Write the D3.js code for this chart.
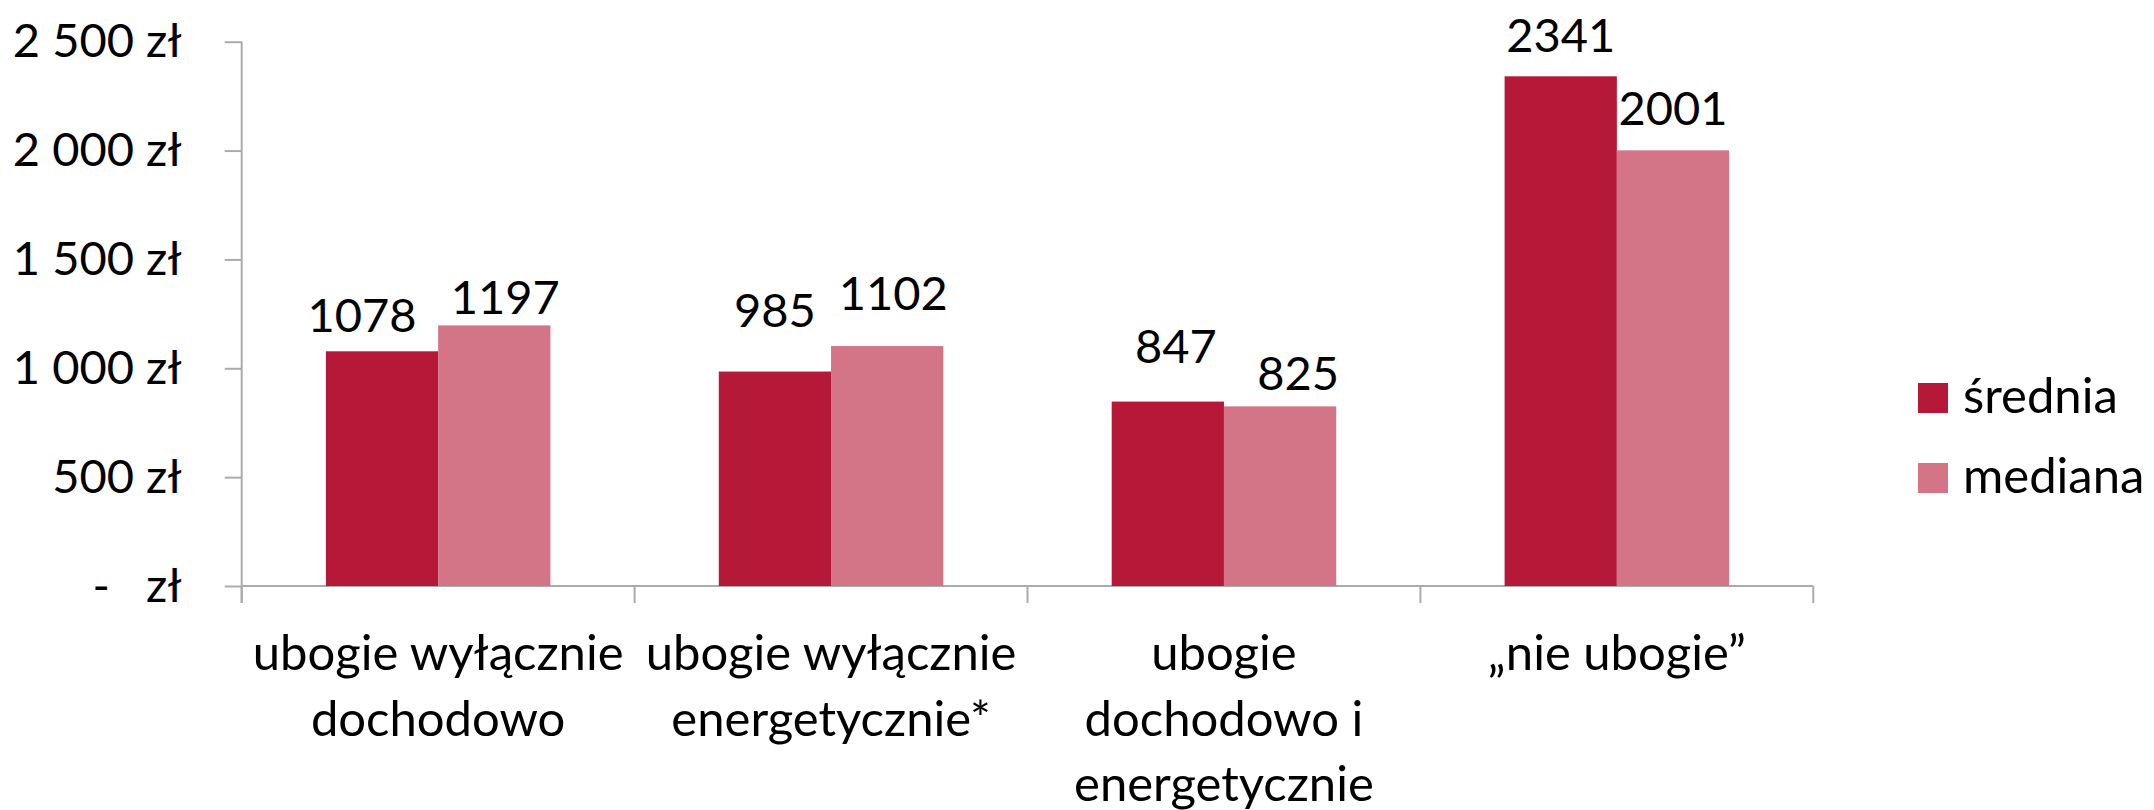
<!DOCTYPE html>
<html>
<head>
<meta charset="utf-8">
<script src="https://cdn.jsdelivr.net/npm/d3@7"></script>
<style>
  body { margin: 0; background: #fff; }
  text { font-family: Lato, "Open Sans", sans-serif; fill: #000; }
</style>
</head>
<body>
<script>
// chart data
var categories = [
  ["ubogie wyłącznie", "dochodowo"],
  ["ubogie wyłącznie", "energetycznie*"],
  ["ubogie", "dochodowo i", "energetycznie"],
  ["\u201enie ubogie\u201d"]
];
var seriesNames = ["średnia", "mediana"];
var sredniaValues = [1078, 985, 847, 2341];
var medianaValues = [1197, 1102, 825, 2001];
var yTicks = [0, 500, 1000, 1500, 2000, 2500];

// labels in the original were dragged around by hand, so nudge them a bit
var labelNudge = [
  [[-20, 5], [11, 13]],
  [[0, -21], [6, -12]],
  [[8, -15], [18, 8]],
  [[0, 0], [0, -1]]
];

var colors = ["#b61838", "#d37487"];

var width = 2154, height = 810;
// note: "top" is taken by window.top, so plot edges get a prefix
var plotLeft = 241.7, plotRight = 1813.3, plotTop = 41.7, plotBottom = 586;
var fontSize = 47;
var catFontSize = 49;

var svg = d3.select('body').append('svg')
            .attr("width", width)
            .attr("height", height);

var x0 = d3.scaleBand()
           .domain(d3.range(categories.length))
           .range([plotLeft, plotRight])
           .padding(0);

var x1 = d3.scaleBand()
           .domain([0, 1])
           .range([0, x0.bandwidth()])
           .paddingInner(0)
           .paddingOuter(0.75);

var y = d3.scaleLinear()
          .domain([0, 2500])
          .range([plotBottom, plotTop]);

var locale = d3.formatLocale({ decimal: ",", thousands: " ", grouping: [3], currency: ["", " zł"] });
var fmt = locale.format(",.0f");

// y axis
var yAxis = d3.axisLeft(y)
              .tickValues(yTicks)
              .tickSize(17)
              .tickPadding(43)
              .tickFormat(function (d) { return d === 0 ? "-   zł" : fmt(d) + " zł"; });

var gy = svg.append('g')
            .attr('transform', 'translate(' + plotLeft + ',0)')
            .call(yAxis);
gy.select('.domain').remove();
gy.selectAll('line').attr('stroke', '#ababab').attr('stroke-width', 2);
gy.selectAll('text')
  .style('font-size', fontSize + 'px')
  .style('font-family', 'Lato')
  .style('white-space', 'pre')
  .attr('fill', '#000');

// vertical axis line, runs down to the x tick length
svg.append('line')
   .attr('x1', plotLeft).attr('x2', plotLeft)
   .attr('y1', plotTop).attr('y2', plotBottom + 17)
   .attr('stroke', '#ababab').attr('stroke-width', 2);

// x axis baseline and category separators
svg.append('line')
   .attr('x1', plotLeft).attr('x2', plotRight)
   .attr('y1', plotBottom).attr('y2', plotBottom)
   .attr('stroke', '#ababab').attr('stroke-width', 2);

var sepX = d3.range(categories.length + 1).map(function (i) {
  return i < categories.length ? x0(i) : x0(i - 1) + x0.bandwidth();
});
svg.selectAll('.sep')
   .data(sepX)
   .enter().append('line')
   .attr('class', 'sep')
   .attr('x1', function (d) { return d; })
   .attr('x2', function (d) { return d; })
   .attr('y1', plotBottom)
   .attr('y2', plotBottom + 17)
   .attr('stroke', '#ababab').attr('stroke-width', 2);

// bars
var rows = categories.map(function (c, i) {
  return [sredniaValues[i], medianaValues[i]].map(function (v, s) {
    return { cat: i, s: s, v: v };
  });
});

var groups = svg.selectAll('.grp')
                .data(rows)
                .enter().append('g')
                .attr('class', 'grp')
                .attr('transform', function (d, i) { return 'translate(' + x0(i) + ',0)'; });

groups.selectAll('rect')
      .data(function (d) { return d; })
      .enter().append('rect')
      .attr('x', function (d) { return x1(d.s); })
      .attr('width', x1.bandwidth())
      .attr('y', function (d) { return y(d.v); })
      .attr('height', function (d) { return y(0) - y(d.v); })
      .attr('fill', function (d) { return colors[d.s]; });

groups.selectAll('.lbl')
      .data(function (d) { return d; })
      .enter().append('text')
      .attr('class', 'lbl')
      .attr('text-anchor', 'middle')
      .attr('x', function (d) { return x1(d.s) + x1.bandwidth() / 2 + labelNudge[d.cat][d.s][0]; })
      .attr('y', function (d) { return y(d.v) - 24 + labelNudge[d.cat][d.s][1]; })
      .style('font-size', fontSize + 'px')
      .text(function (d) { return d.v; });

// category labels
var catText = svg.selectAll('.cat')
                 .data(categories)
                 .enter().append('text')
                 .attr('class', 'cat')
                 .attr('text-anchor', 'middle')
                 .style('font-size', catFontSize + 'px');

catText.selectAll('tspan')
       .data(function (d, i) { return d.map(function (t) { return { t: t, i: i }; }); })
       .enter().append('tspan')
       .attr('x', function (d) { return x0(d.i) + x0.bandwidth() / 2; })
       .attr('y', function (d, j) { return 670 + j * 65.5; })
       .text(function (d) { return d.t; });

// legend
var legend = svg.selectAll('.leg')
                .data(seriesNames)
                .enter().append('g')
                .attr('class', 'leg')
                .attr('transform', function (d, i) { return 'translate(1918,' + (383 + i * 80) + ')'; });

legend.append('rect')
      .attr('width', 30)
      .attr('height', 30)
      .attr('fill', function (d, i) { return colors[i]; });

legend.append('text')
      .attr('x', 45)
      .attr('y', 30)
      .style('font-size', catFontSize + 'px')
      .text(function (d) { return d; });
</script>
</body>
</html>
